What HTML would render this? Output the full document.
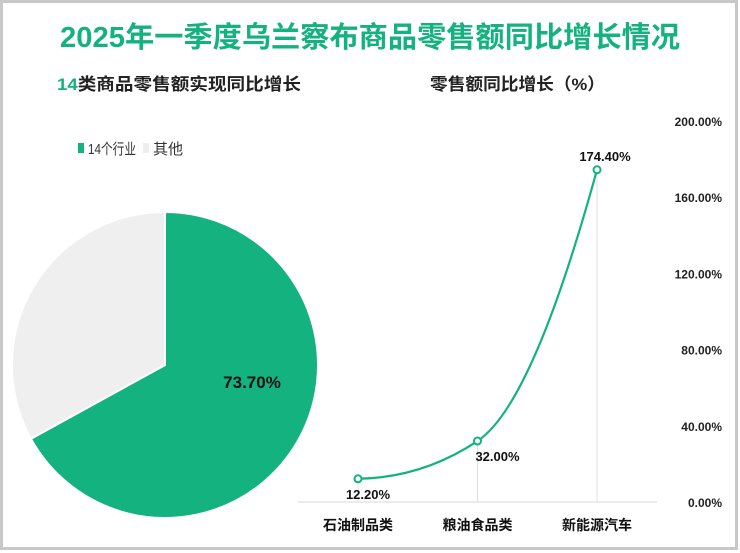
<!DOCTYPE html>
<html><head><meta charset="utf-8"><style>
body{margin:0;background:#fff;}
#wrap{position:relative;width:740px;height:553px;overflow:hidden;font-family:"Liberation Sans","Noto Sans CJK SC",sans-serif;}
</style></head><body>
<div id="wrap">
<svg width="740" height="553" xmlns="http://www.w3.org/2000/svg" id="svg">
<rect x="1.5" y="1.5" width="735" height="547" fill="#fff" stroke="#c8c8c8" stroke-width="3"/>
<text x="370" y="47" text-anchor="middle" font-size="29" font-weight="bold" fill="#13b27e" textLength="620" lengthAdjust="spacingAndGlyphs" font-family="Liberation Sans,Noto Sans CJK SC,sans-serif">2025年一季度乌兰察布商品零售额同比增长情况</text>
<text x="57" y="90" font-size="17" font-weight="bold" fill="#222" textLength="244" lengthAdjust="spacingAndGlyphs" font-family="Liberation Sans,Noto Sans CJK SC,sans-serif"><tspan fill="#13b27e">14</tspan>类商品零售额实现同比增长</text>
<text x="430" y="90" font-size="17" font-weight="bold" fill="#222" textLength="175" lengthAdjust="spacingAndGlyphs" font-family="Liberation Sans,Noto Sans CJK SC,sans-serif">零售额同比增长（%）</text>
<rect x="78" y="143" width="6" height="10" fill="#13b27e"/>
<text x="88" y="154" font-size="15" fill="#333" textLength="48" lengthAdjust="spacingAndGlyphs" font-family="Liberation Sans,Noto Sans CJK SC,sans-serif">14个行业</text>
<rect x="143" y="143" width="6" height="10" fill="#eeeeee"/>
<text x="153" y="154" font-size="15" fill="#333" font-family="Liberation Sans,Noto Sans CJK SC,sans-serif">其他</text>
<g id="pie"></g>
<g id="line"></g>
</svg>
</div>
<script>
const pieLabels=["14个行业","其他"];
const pieValues=[73.7,36.3];
const categories=["石油制品类","粮油食品类","新能源汽车"];
const growthValues=[12.2,32.0,174.4];
const yTicks=[0,40,80,120,160,200];
const NS="http://www.w3.org/2000/svg";
function mk(t,a,p){const e=document.createElementNS(NS,t);for(const k in a)e.setAttribute(k,a[k]);p.appendChild(e);return e;}
const pie=document.getElementById('pie');
const cx=165,cy=365,r=153;const colors=["#13b27e","#efefef"];
let total=pieValues.reduce((a,b)=>a+b,0),start=0;
pieValues.forEach((v,i)=>{
 const a0=start/total*2*Math.PI,a1=(start+v)/total*2*Math.PI;start+=v;
 const x0=cx+r*Math.sin(a0),y0=cy-r*Math.cos(a0),x1=cx+r*Math.sin(a1),y1=cy-r*Math.cos(a1);
 const p=mk('path',{d:`M${cx},${cy}L${x0},${y0}A${r},${r} 0 ${a1-a0>Math.PI?1:0} 1 ${x1},${y1}Z`,fill:colors[i],stroke:'#fff','stroke-width':2},pie);
 
 
});
const pl=mk('text',{x:252,y:388,'text-anchor':'middle','font-size':17,'font-weight':'bold',fill:'#111'},pie);
pl.textContent=pieValues[0].toFixed(2)+'%';


const g=document.getElementById('line');
const y0=502,pxPer=(502-121)/200;
const ys=v=>y0-v*pxPer;
const xs=i=>358+i*119.5;
yTicks.forEach(t=>{const e=mk('text',{x:722,y:ys(t)+5,'text-anchor':'end','font-size':12,'font-weight':'bold',fill:'#222'},g);e.textContent=t.toFixed(2)+'%';

});
const ax=mk('line',{x1:298,x2:657,y1:y0,y2:y0,stroke:'#d9d9d9','stroke-width':1},g);


categories.forEach((c,i)=>{
 const d=mk('line',{x1:xs(i),x2:xs(i),y1:ys(growthValues[i]),y2:y0,stroke:'#e0e0e0','stroke-width':1},g);
 
 
 const t=mk('text',{x:xs(i),y:530,'text-anchor':'middle','font-size':14,'font-weight':'bold',fill:'#111'},g);t.textContent=c;
 
 
});
const P=growthValues.map((v,i)=>[xs(i),ys(v)]);
const n=P.length,m=[];
for(let i=0;i<n;i++){
 if(i==0)m.push(0.05*(P[1][1]-P[0][1])/(P[1][0]-P[0][0]));
 else if(i==n-1)m.push(1.6*(P[i][1]-P[i-1][1])/(P[i][0]-P[i-1][0]));
 else{const s0=(P[i][1]-P[i-1][1])/(P[i][0]-P[i-1][0]),s1=(P[i+1][1]-P[i][1])/(P[i+1][0]-P[i][0]);m.push(s0*s1<=0?0:2*s0*s1/(s0+s1)*1.2);}
}
let d=`M${P[0][0]},${P[0][1]}`;
for(let i=0;i<n-1;i++){
 const h=(P[i+1][0]-P[i][0])/3;
 d+=`C${P[i][0]+h},${P[i][1]+m[i]*h} ${P[i+1][0]-h},${P[i+1][1]-m[i+1]*h} ${P[i+1][0]},${P[i+1][1]}`;
}
const ln=mk('path',{d:d,fill:'none',stroke:'#13b27e','stroke-width':2.2},g);


const lx=[10,20,8],ly=[20,20,-9];
P.forEach((p,i)=>{
 const c=mk('circle',{cx:p[0],cy:p[1],r:3.5,fill:'#fff',stroke:'#13b27e','stroke-width':2},g);
 
 
 const t=mk('text',{x:p[0]+lx[i],y:p[1]+ly[i],'text-anchor':'middle','font-size':13,'font-weight':'bold',fill:'#111'},g);
 t.textContent=growthValues[i].toFixed(2)+'%';
 
 
});
</script>
</body></html>
